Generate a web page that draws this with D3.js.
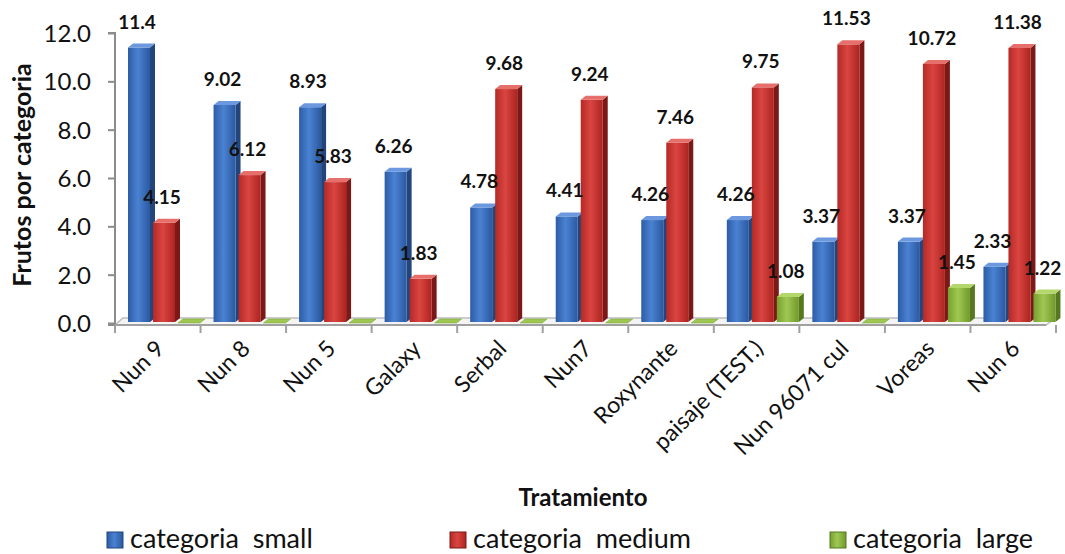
<!DOCTYPE html>
<html>
<head>
<meta charset="utf-8">
<script src="https://cdn.jsdelivr.net/npm/d3@7"></script>
<style>
  html, body { margin: 0; padding: 0; background: #fff; }
  svg { display: block; font-family: Lato, "Open Sans", sans-serif; }
</style>
</head>
<body>
<svg id="chart" width="1065" height="554"></svg>
<script>
// Fruit counts per size category for each treatment
const categories = ["Nun 9", "Nun 8", "Nun 5", "Galaxy", "Serbal", "Nun7", "Roxynante",
  "paisaje (TEST.)", "Nun 96071 cul", "Voreas", "Nun 6"];
const smallValues  = [11.4, 9.02, 8.93, 6.26, 4.78, 4.41, 4.26, 4.26, 3.37, 3.37, 2.33];
const mediumValues = [4.15, 6.12, 5.83, 1.83, 9.68, 9.24, 7.46, 9.75, 11.53, 10.72, 11.38];
const largeValues  = [0, 0, 0, 0, 0, 0, 0, 1.08, 0, 1.45, 1.22];
const seriesNames  = ["categoria  small", "categoria  medium", "categoria  large"];
const yTicks = [0, 2, 4, 6, 8, 10, 12];

const series = [
  { name: seriesNames[0], values: smallValues,
    front: ["#2d5ca6", "#4a82d2", "#2b58a0"], side: "#22467c", top: "#6b98df" },
  { name: seriesNames[1], values: mediumValues,
    front: ["#b52925", "#da4541", "#ad2420"], side: "#7c1916", top: "#e66f6b" },
  { name: seriesNames[2], values: largeValues,
    front: ["#76a02e", "#9fc853", "#70992a"], side: "#56781f", top: "#b4d76c" }
];

const svg = d3.select("#chart");
const defs = svg.append("defs");
series.forEach((s, i) => {
  const g = defs.append("linearGradient").attr("id", "front" + i)
    .attr("x1", "0").attr("x2", "1").attr("y1", "0").attr("y2", "0");
  g.append("stop").attr("offset", "0").attr("stop-color", s.front[0]);
  g.append("stop").attr("offset", "0.45").attr("stop-color", s.front[1]);
  g.append("stop").attr("offset", "1").attr("stop-color", s.front[2]);
});

const plotLeft = 115, plotRight = 1056, plotTop = 33, plotBottom = 323;
const depthX = 5, depthY = 4;

const x = d3.scaleBand().domain(categories).range([plotLeft, plotRight]).paddingInner(0).paddingOuter(0);
const inner = d3.scaleBand().domain([0, 1, 2]).range([13, 13 + 75]).paddingInner(0).paddingOuter(0);
const y = d3.scaleLinear().domain([0, 12]).range([plotBottom, plotTop]);

// floor
const floorFront = plotBottom + 2, floorBack = plotBottom - 5;
svg.append("path")
  .attr("d", `M${plotLeft},${floorFront} L${plotRight - 10},${floorFront} L${plotRight},${floorBack} L${plotLeft + 8},${floorBack} Z`)
  .attr("fill", "#f4f4f4").attr("stroke", "#bdbdbd").attr("stroke-width", 1.5);

// y axis
const yAxis = d3.axisLeft(y).tickValues(yTicks).tickFormat(d3.format(".1f")).tickSize(7).tickPadding(17);
const ya = svg.append("g").attr("transform", `translate(${plotLeft},0)`).call(yAxis);
ya.select(".domain").attr("stroke", "#8c8c8c").attr("stroke-width", 2)
  .attr("d", `M-7,${plotTop}H0V${floorFront}H-7`);
ya.selectAll(".tick line").attr("stroke", "#8c8c8c").attr("stroke-width", 2);
ya.selectAll(".tick text").attr("font-size", 24).attr("fill", "#111").attr("dy", "0.35em")
  .attr("font-family", "Lato, 'Open Sans', sans-serif");

// x axis with ticks at category boundaries
const xa = svg.append("g").attr("transform", `translate(0,${floorFront})`);
xa.append("line").attr("x1", plotLeft).attr("x2", plotRight - 10).attr("y1", 0).attr("y2", 0)
  .attr("stroke", "#a0a0a0").attr("stroke-width", 2);
const bounds = categories.map(c => x(c)).concat([x(categories[categories.length - 1]) + x.bandwidth()]);
xa.selectAll("line.tk").data(bounds).join("line").attr("class", "tk")
  .attr("x1", d => d).attr("x2", d => d).attr("y1", 0).attr("y2", 8)
  .attr("stroke", "#a0a0a0").attr("stroke-width", 2);
xa.selectAll("text").data(categories).join("text")
  .attr("transform", d => `translate(${x(d) + x.bandwidth() / 2 + 8},${25}) rotate(-45)`)
  .attr("text-anchor", "end").attr("font-size", 23).attr("fill", "#111")
  .text(d => d);

// bars drawn as 3D prisms
const barsG = svg.append("g");
const labelsG = svg.append("g");
const frontW = inner.bandwidth() - depthX + 2;
categories.forEach((c, ci) => {
  series.forEach((s, si) => {
    const v = s.values[ci];
    const x0 = x(c) + inner(si);
    const y0 = y(0) - 1, y1 = y(v);
    const g = barsG.append("g");
    if (v > 0) {
      g.append("path")
        .attr("d", `M${x0 + frontW},${y1} L${x0 + frontW + depthX},${y1 - depthY} L${x0 + frontW + depthX},${y0 - depthY} L${x0 + frontW},${y0} Z`)
        .attr("fill", s.side);
      g.append("rect").attr("x", x0).attr("y", y1).attr("width", frontW).attr("height", y0 - y1)
        .attr("fill", `url(#front${si})`);
    }
    g.append("path")
      .attr("d", `M${x0},${y1} L${x0 + depthX},${y1 - depthY} L${x0 + frontW + depthX},${y1 - depthY} L${x0 + frontW},${y1} Z`)
      .attr("fill", v > 0 ? s.top : s.front[1]).attr("stroke", v > 0 ? "none" : s.front[0]).attr("stroke-width", 0.5);
    if (v > 0) {
      labelsG.append("text").attr("x", x0 + frontW / 2 - 2).attr("y", y1 - 19)
        .attr("text-anchor", "middle").attr("font-size", 19).attr("font-weight", "bold")
        .attr("fill", "#111").text(s.values[ci]);
    }
  });
});

// axis titles
svg.append("text").attr("transform", `translate(31,${(plotTop + plotBottom) / 2 - 3}) rotate(-90)`)
  .attr("text-anchor", "middle").attr("font-size", 25).attr("font-weight", "bold").attr("fill", "#111")
  .text("Frutos por categoria");
svg.append("text").attr("x", 583).attr("y", 506)
  .attr("text-anchor", "middle").attr("font-size", 24).attr("font-weight", "bold").attr("fill", "#111")
  .text("Tratamiento");

// legend
const legendX = [107, 450, 830];
const lg = svg.append("g");
series.forEach((s, i) => {
  const g = lg.append("g").attr("transform", `translate(${legendX[i]},532)`);
  g.append("rect").attr("x", 0).attr("y", 0).attr("width", 16).attr("height", 16)
    .attr("fill", `url(#front${i})`).attr("stroke", s.side).attr("stroke-width", 1);
  g.append("text").attr("x", 23).attr("y", 16).attr("font-size", 27).attr("fill", "#111")
    .attr("xml:space", "preserve").style("white-space", "pre").text(s.name);
});
</script>
</body>
</html>
